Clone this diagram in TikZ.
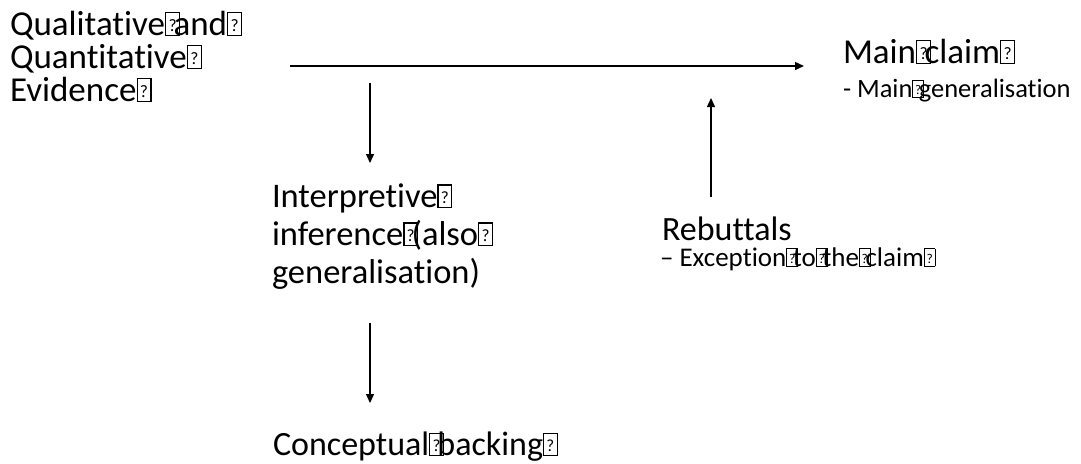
\documentclass[tikz,border=0pt]{standalone}
\usepackage{fontspec}
\setmainfont{Carlito}[Ligatures=NoCommon]
\usetikzlibrary{arrows.meta}
\usepackage{graphicx}

% small boxed question mark, as the slide prints its unknown glyphs
\newcommand{\qbox}{\makebox[0.24em][l]{\setlength{\fboxsep}{0pt}\setlength{\fboxrule}{0.035em}\fbox{\makebox[0.36em]{\rule{0pt}{0.62em}\raisebox{0.1em}{\scalebox{0.5}{?}}}}}}

\tikzset{
  label/.style={anchor=base west, inner sep=0pt, outer sep=0pt, align=left, text=black},
  flow/.style={-{Triangle[length=9pt,width=8pt]}, line width=1.4pt, black}
}

\begin{document}
\begin{tikzpicture}[x=1pt,y=-1pt]
  \useasboundingbox (0,0) rectangle (1081,463);

  % multi-line labels are placed by the baseline of their last line
  \node[label, font={\fontsize{35}{33}\selectfont}] (evidence) at (10,101)
    {Qualitative\qbox and\qbox\\Quantitative\qbox\\Evidence\qbox};

  \node[label, font={\fontsize{35}{35}\selectfont}] (claim) at (843,63)
    {Main\qbox claim\qbox};
  \node[label, font={\fontsize{26.5}{26.5}\selectfont}] (claimsub) at (843,97)
    {- Main\qbox generalisation};

  \node[label, font={\fontsize{34.5}{38}\selectfont}] (inference) at (272,283)
    {Interpretive\qbox\\inference\qbox(also\qbox\\generalisation)};

  \node[label, font={\fontsize{34}{34}\selectfont}] (rebuttals) at (662,240)
    {Rebuttals};
  \node[label, font={\fontsize{27}{27}\selectfont}] (rebsub) at (660,266)
    {– Exception\qbox to\qbox the\qbox claim\qbox};

  \node[label, font={\fontsize{34}{34}\selectfont}] (backing) at (273,455)
    {Conceptual\qbox backing\qbox};

  % free ends of the connectors
  \coordinate (evR) at (290,66);
  \coordinate (clL) at (804,66);
  \coordinate (evB) at (370,83);
  \coordinate (inT) at (370,163);
  \coordinate (rbT) at (711,197);
  \coordinate (clB) at (711,98);
  \coordinate (inB) at (370,323);
  \coordinate (bkT) at (370,403);

  \draw[flow] (evR) -- (clL);
  \draw[flow] (evB) -- (inT);
  \draw[flow] (rbT) -- (clB);
  \draw[flow] (inB) -- (bkT);
\end{tikzpicture}
\end{document}
